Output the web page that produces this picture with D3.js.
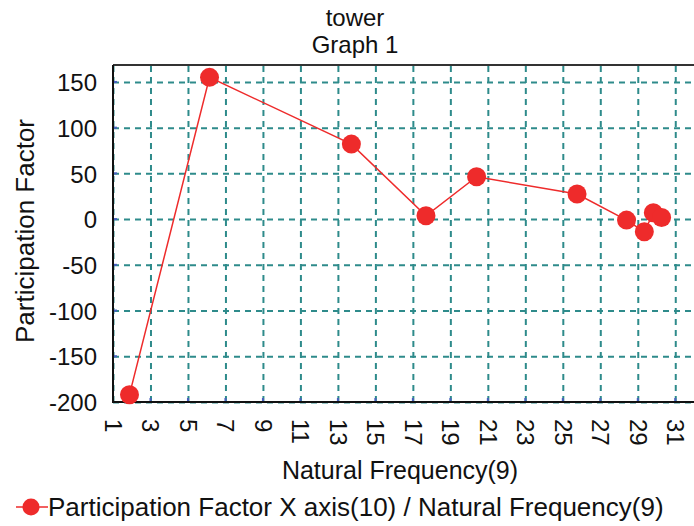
<!DOCTYPE html>
<html>
<head>
<meta charset="utf-8">
<script src="https://cdn.jsdelivr.net/npm/d3@7"></script>
<style>
	body { margin: 0; background: #fff; }
	svg { display: block; font-family: "Liberation Sans", Arial, sans-serif; }
	.grid line { stroke: #2e8b8b; stroke-width: 2; stroke-dasharray: 6 5; }
	.grid path { display: none; }
	.axis text { font-size: 24px; fill: #111; }
	.axis path, .axis line { display: none; }
</style>
</head>
<body>
<svg id="chart"></svg>
<script>
// natural frequency (x) and participation factor (y)
const naturalFrequency = [1.88, 6.15, 13.72, 17.7, 20.4, 25.76, 28.4, 29.35, 29.83, 30.27];
const participationFactor = [-192, 155, 82, 3.6, 46.3, 27.4, -1.1, -13.9, 6.9, 1.8];
const xTicks = d3.range(1, 32, 2);
const yTicks = [-200, -150, -100, -50, 0, 50, 100, 150];
const titleLines = ['tower', 'Graph 1'];
const xTitle = 'Natural Frequency(9)';
const yTitle = 'Participation Factor';
const legendLabel = 'Participation Factor X axis(10) / Natural Frequency(9)';

const fullWidth = 694, fullHeight = 526;
const plot = { left: 113, top: 65, right: 694, bottom: 402 };
const red = '#ee2b2b';

const svg = d3.select('#chart').attr('width', fullWidth).attr('height', fullHeight);

const x = d3.scaleLinear().domain([1, 32]).range([plot.left, plot.right]);
const y = d3.scaleLinear().domain([-200, 168.5]).range([plot.bottom, plot.top]);

const points = naturalFrequency.map((f, i) => ({ f, p: participationFactor[i] }));

// grid
svg.append('g')
	.attr('class', 'grid')
	.attr('transform', `translate(0,${plot.bottom})`)
	.call(d3.axisBottom(x).tickValues(xTicks).tickSize(-(plot.bottom - plot.top)).tickFormat(''));
svg.append('g')
	.attr('class', 'grid')
	.attr('transform', `translate(${plot.left},0)`)
	.call(d3.axisLeft(y).tickValues(yTicks).tickSize(-(plot.right - plot.left)).tickFormat(''));

// small blue marks where the grid meets the axes
svg.append('g').selectAll('line').data(yTicks).join('line')
	.attr('x1', plot.left).attr('x2', plot.left + 4)
	.attr('y1', d => y(d)).attr('y2', d => y(d))
	.attr('stroke', '#4a5fc0').attr('stroke-width', 2);
svg.append('g').selectAll('line').data(xTicks).join('line')
	.attr('x1', d => x(d)).attr('x2', d => x(d))
	.attr('y1', plot.bottom - 4).attr('y2', plot.bottom)
	.attr('stroke', '#4a5fc0').attr('stroke-width', 2);

// frame
svg.append('line').attr('x1', plot.left).attr('x2', plot.right)
	.attr('y1', plot.top).attr('y2', plot.top)
	.attr('stroke', '#333').attr('stroke-width', 2);
svg.append('line').attr('x1', plot.left).attr('x2', plot.left)
	.attr('y1', plot.top).attr('y2', plot.bottom + 1)
	.attr('stroke', '#111').attr('stroke-width', 2);
svg.append('line').attr('x1', plot.left - 1).attr('x2', plot.right)
	.attr('y1', plot.bottom).attr('y2', plot.bottom)
	.attr('stroke', '#111').attr('stroke-width', 2);

// axes labels
svg.append('g')
	.attr('class', 'axis')
	.attr('transform', `translate(${plot.left},0)`)
	.call(d3.axisLeft(y).tickValues(yTicks).tickSize(0).tickPadding(16).tickFormat(d => String(d)))
	.selectAll('text').attr('dy', '0.36em');

const xAxisG = svg.append('g')
	.attr('class', 'axis')
	.attr('transform', `translate(0,${plot.bottom})`)
	.call(d3.axisBottom(x).tickValues(xTicks).tickSize(0));
xAxisG.selectAll('text')
	.attr('transform', 'rotate(90)')
	.attr('text-anchor', 'start')
	.attr('x', 17)
	.attr('y', 0)
	.attr('dy', '0.36em');

// titles
svg.append('g').selectAll('text').data(titleLines).join('text')
	.attr('x', 355).attr('y', (d, i) => 26 + i * 27)
	.attr('text-anchor', 'middle').style('font-size', '24px').attr('fill', '#111')
	.text(d => d);

svg.append('text')
	.attr('x', 400).attr('y', 479)
	.attr('text-anchor', 'middle').style('font-size', '25px').attr('fill', '#111')
	.text(xTitle);

svg.append('text')
	.attr('transform', `translate(34,231) rotate(-90)`)
	.attr('text-anchor', 'middle').style('font-size', '26px').attr('fill', '#111')
	.text(yTitle);

// series
svg.append('path')
	.datum(points)
	.attr('fill', 'none')
	.attr('stroke', red)
	.attr('stroke-width', 1.5)
	.attr('d', d3.line().x(d => x(d.f)).y(d => y(d.p)));

svg.append('g').selectAll('circle').data(points).join('circle')
	.attr('cx', d => x(d.f))
	.attr('cy', d => y(d.p))
	.attr('r', 9.5)
	.attr('fill', red);

// legend
const lg = svg.append('g').attr('transform', 'translate(0,507)');
lg.append('line').attr('x1', 16).attr('x2', 48).attr('y1', 0).attr('y2', 0)
	.attr('stroke', red).attr('stroke-width', 1.5);
lg.append('circle').attr('cx', 31).attr('cy', 0).attr('r', 8.5).attr('fill', red);
lg.append('text').attr('x', 48).attr('y', 0).attr('dy', '0.36em')
	.style('font-size', '26px').attr('fill', '#111')
	.text(legendLabel);
</script>
</body>
</html>
